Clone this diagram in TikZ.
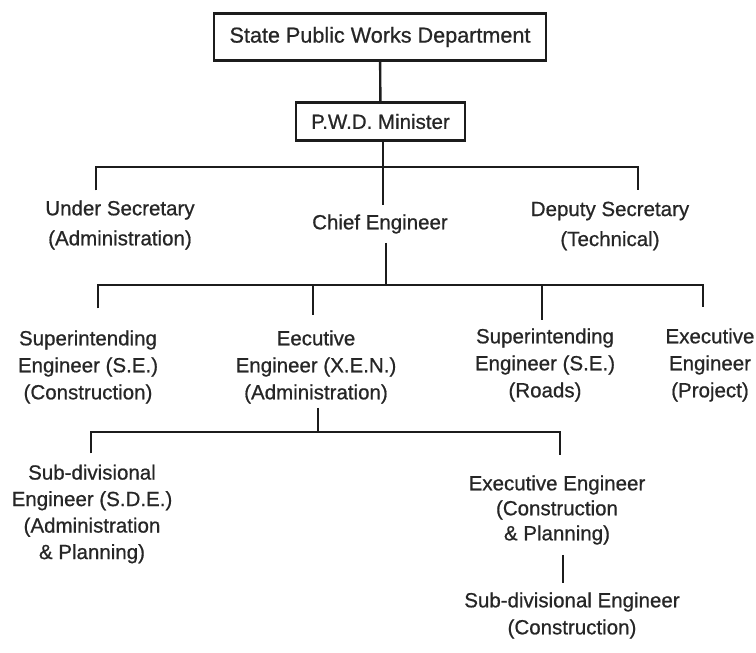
\documentclass[tikz,border=0pt]{standalone}
\usepackage{fontspec}
\setmainfont{Liberation Sans}[FakeBold=0.7]
\definecolor{inkc}{HTML}{1C1C1C}
\definecolor{textc}{HTML}{262626}
\begin{document}
\begin{tikzpicture}[x=1pt,y=-1pt,
  link/.style={draw=inkc, line width=2.4pt},
  titlebox/.style={draw=inkc, line width=2.4pt, inner sep=0pt, text=textc,
    font=\fontsize{20.5}{27}\selectfont},
  post/.style={inner sep=0pt, align=center, text=textc,
    font=\fontsize{20.5}{27}\selectfont},
  wide/.style={font=\fontsize{20.5}{30}\selectfont},
  tight/.style={font=\fontsize{20.5}{25}\selectfont}
]
\fill[white] (0,0) rectangle (756,653);
\useasboundingbox (0,0) rectangle (756,653);

% boxed heads
\node[titlebox, font=\fontsize{21.6}{27}\selectfont, minimum width=332pt, minimum height=47pt] (top) at (380,37) {State Public Works Department};
\node[titlebox, minimum width=169pt, minimum height=38pt] (min) at (380.5,121.5) {P.W.D. Minister};

% first level
\node[post, wide] (us) at (120,225) {Under Secretary\\(Administration)};
\node[post] (ce) at (380,224) {Chief Engineer};
\node[post, wide] (ds) at (610,226) {Deputy Secretary\\(Technical)};

% second level
\node[post] (se1) at (88,367) {Superintending\\Engineer (S.E.)\\(Construction)};
\node[post] (xen) at (316,367) {Eecutive\\Engineer (X.E.N.)\\(Administration)};
\node[post] (se2) at (545,365) {Superintending\\Engineer (S.E.)\\(Roads)};
\node[post] (xp) at (710,365) {Executive\\Engineer\\(Project)};

% third level
\node[post, font=\fontsize{20.5}{26.5}\selectfont] (sd1) at (92,514) {Sub-divisional\\Engineer (S.D.E.)\\(Administration\\\& Planning)};
\node[post, tight] (xe2) at (557,510) {Executive Engineer\\(Construction\\\& Planning)};
\node[post] (sd2) at (572,615.5) {Sub-divisional Engineer\\(Construction)};

% bus junctions
\coordinate (b1l) at (96,167);
\coordinate (b1r) at (638,167);
\coordinate (b1m) at (383,167);
\coordinate (b2l) at (98,285);
\coordinate (b2r) at (703,285);
\coordinate (b2m) at (386,285);
\coordinate (b2x) at (313,285);
\coordinate (b2s) at (542,285);
\coordinate (b3l) at (91,432);
\coordinate (b3r) at (560,432);
\coordinate (b3m) at (318,432);
\coordinate (v) at (563,560);

% connectors
\draw[link] (top) -- (min);
\draw[link, shorten >=9pt] (min.south -| b1m) -- (b1m |- ce.north);
\draw[link, shorten <=10pt, shorten >=12pt] (us.north -| b1l) -- (b1l) -- (b1r) -- (b1r |- ds.north);

\draw[link, shorten <=9pt] (ce.south -| b2m) -- (b2m);
\draw[link, shorten <=22pt, shorten >=21pt] (se1.north -| b2l) -- (b2l) -- (b2r) -- (b2r |- xp.north);
\draw[link, shorten >=15pt] (b2x) -- (b2x |- xen.north);
\draw[link, shorten >=8pt] (b2s) -- (b2s |- se2.north);

\draw[link, shorten <=4pt] (xen.south -| b3m) -- (b3m);
\draw[link, shorten <=11pt, shorten >=20pt] (sd1.north -| b3l) -- (b3l) -- (b3r) -- (b3r |- xe2.north);

\draw[link, shorten <=10pt, shorten >=9pt] (xe2.south -| v) -- (v |- sd2.north);
\end{tikzpicture}
\end{document}
